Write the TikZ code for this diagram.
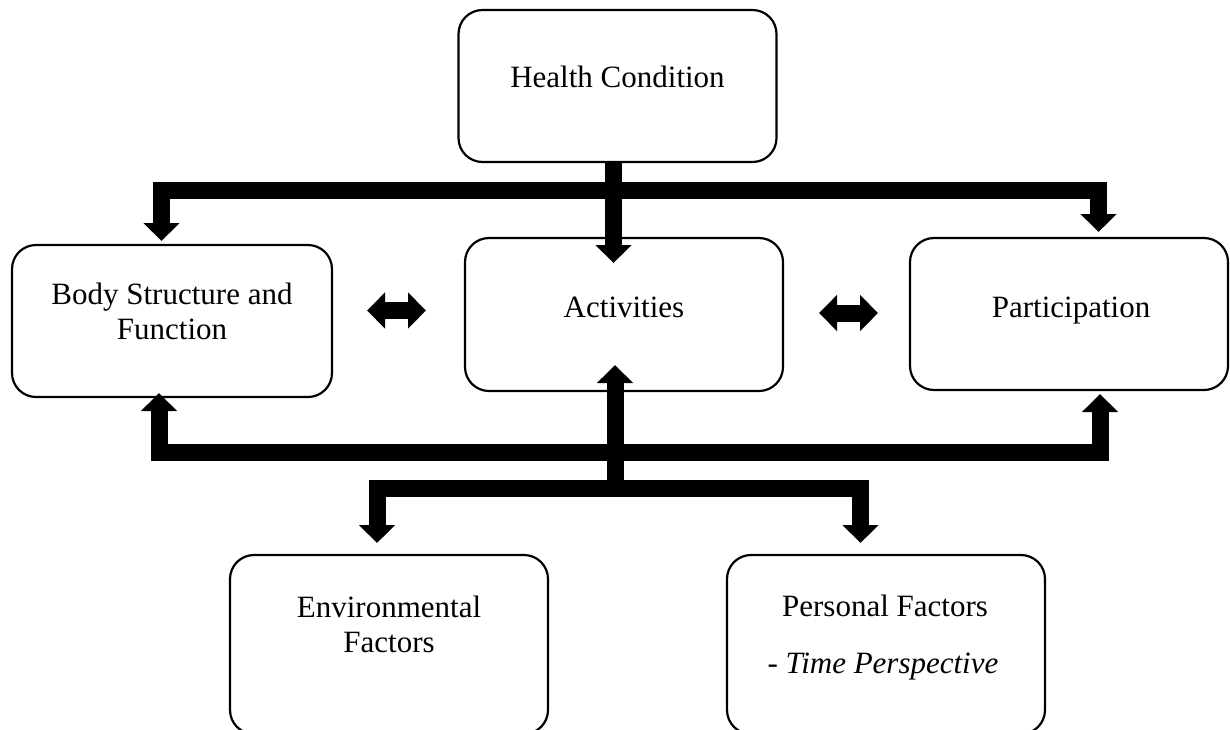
\documentclass[tikz,border=0pt]{standalone}
\usepackage{fontspec}
\setmainfont{Liberation Serif}
\usetikzlibrary{arrows.meta}
\begin{document}
\begin{tikzpicture}[x=1pt,y=-1pt,
  box/.style={draw, line width=2.2pt, rounded corners=24pt, inner sep=0pt,
              minimum width=318pt, minimum height=152pt},
  txt/.style={anchor=base, inner sep=0pt, font=\fontsize{31}{36}\selectfont},
  bar/.style={line width=17pt, line join=miter, line cap=butt},
  head/.style={-{Triangle[width=35pt,length=18pt]}},
  heads/.style={{Triangle[width=35pt,length=18pt]}-{Triangle[width=35pt,length=18pt]}}]
\clip (0,0) rectangle (1230,729);

% boxes
\node[box] (hc)   at (617.5,86)  {};
\node[box, minimum width=320pt] (body) at (172,321) {};
\node[box, minimum height=153pt] (act)  at (624,314.5) {};
\node[box] (part) at (1069,314) {};
\node[box, minimum height=179pt] (env)  at (389,644.5) {};
\node[box, minimum height=179pt] (pers) at (886,644.5) {};

% labels
\node[txt] (hct)   at (617.5,87) {Health Condition};
\node[txt] (bodyA) at (172,304)  {Body Structure and};
\node[txt] (bodyB) at (172,339)  {Function};
\node[txt] (actt)  at (624,317)  {Activities};
\node[txt] (partt) at (1071,317) {Participation};
\node[txt] (envA)  at (389,617)  {Environmental};
\node[txt] (envB)  at (389,652)  {Factors};
\node[txt] (persA) at (885,616)  {Personal Factors};
\node[txt] (persB) at (883,673)  {- \textit{Time Perspective}};

% junction points of the thick bars
\coordinate (hcOut)  at (613.5,162);
\coordinate (actIn)  at (613.5,263);
\coordinate (tl)     at (161.5,190.5);
\coordinate (tr)     at (1098.5,190.5);
\coordinate (bodyIn) at (161.5,241);
\coordinate (partIn) at (1098.5,232);

\coordinate (bl)      at (159,452);
\coordinate (br)      at (1100,452);
\coordinate (bodyUp)  at (159,393);
\coordinate (partUp)  at (1100,394);
\coordinate (stem)    at (615,497);
\coordinate (actUp)   at (615,365);
\coordinate (el)      at (377,488.5);
\coordinate (er)      at (860.5,488.5);
\coordinate (envIn)   at (377,543);
\coordinate (persIn)  at (860.5,543);

% health condition feeds the three middle boxes
\draw[bar, heads] (bodyIn) -- (tl) -- (tr) -- (partIn);
\draw[bar, head] (hcOut) -- (actIn);

% lower distribution bars
\draw[bar, heads] (bodyUp) -- (bl) -- (br) -- (partUp);
\draw[bar, heads] (envIn) -- (el) -- (er) -- (persIn);
\draw[bar, head] (stem) -- (actUp);

% two-way arrows between the middle boxes
\coordinate (d1a) at (367,310.5);
\coordinate (d1b) at (426,310.5);
\coordinate (d2a) at (819,313);
\coordinate (d2b) at (878,313);
\draw[bar, heads] (d1a) -- (d1b);
\draw[bar, heads] (d2a) -- (d2b);
\end{tikzpicture}
\end{document}
